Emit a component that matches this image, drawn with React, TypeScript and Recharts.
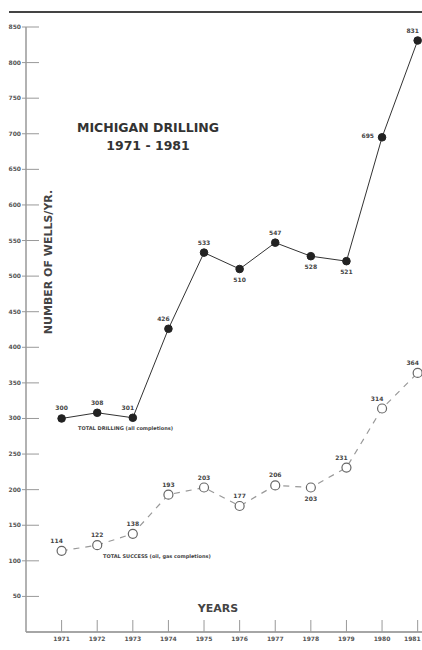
import React from 'react';
import { LineChart, Line, XAxis, YAxis, LabelList } from 'recharts';

const years = [1971, 1972, 1973, 1974, 1975, 1976, 1977, 1978, 1979, 1980, 1981];
const totalDrilling = [300, 308, 301, 426, 533, 510, 547, 528, 521, 695, 831];
const totalSuccess = [114, 122, 138, 193, 203, 177, 206, 203, 231, 314, 364];
const yTicks = [50, 100, 150, 200, 250, 300, 350, 400, 450, 500, 550, 600, 650, 700, 750, 800, 850];

// where each value label sits relative to its point
const drillingLabelSide = ['up', 'up', 'upLeft', 'upLeft', 'up', 'down', 'up', 'down', 'down', 'left', 'upLeft'];
const successLabelSide = ['upLeft', 'up', 'up', 'up', 'up', 'up', 'up', 'down', 'upLeft', 'upLeft', 'upLeft'];

const data = years.map((year, i) => ({
  year,
  drilling: totalDrilling[i],
  success: totalSuccess[i],
}));

const FONT = '"DejaVu Sans", "Open Sans", sans-serif';
const INK = '#333';

const YTick = (props: any) => {
  const { x, y, payload } = props;
  return (
    <g>
      <line x1={x - 4} x2={x + 13} y1={y} y2={y} stroke="#999" strokeWidth={1} />
      <text x={x - 5} y={y} dy={2} textAnchor="end" fontSize={6} fontWeight="bold" fill="#555" fontFamily={FONT}>
        {payload.value}
      </text>
    </g>
  );
};

const XTick = (props: any) => {
  const { x, y, payload, index } = props;
  // last year sits on the page edge, keep its label inside
  const last = index === years.length - 1;
  return (
    <g>
      <line x1={x} x2={x} y1={y - 12} y2={y} stroke="#999" strokeWidth={1} />
      <text
        x={last ? x + 3 : x}
        y={y + 9}
        textAnchor={last ? 'end' : 'middle'}
        fontSize={6}
        fontWeight="bold"
        fill="#555"
        fontFamily={FONT}
      >
        {payload.value}
      </text>
    </g>
  );
};

const makeLabel = (sides: string[]) => (props: any) => {
  const { x, y, value, index } = props;
  const side = sides[index];
  let lx = x;
  let ly = y - 8;
  let anchor: 'middle' | 'end' = 'middle';
  if (side === 'down') ly = y + 13;
  if (side === 'upLeft') {
    lx = x - 5;
    ly = y - 8;
  }
  if (side === 'left') {
    lx = x - 8;
    ly = y + 1;
    anchor = 'end';
  }
  return (
    <text x={lx} y={ly} textAnchor={anchor} fontSize={6} fontWeight="bold" fill="#444" fontFamily={FONT}>
      {value}
    </text>
  );
};

const App: React.FC = () => {
  return (
    <div style={{ position: 'absolute', left: 0, top: 0, width: 422, height: 650, overflow: 'hidden', background: '#fff' }}>
      <div style={{ position: 'absolute', left: 9, top: 11, width: 413, height: 2, background: '#444' }} />
      <LineChart width={430} height={650} data={data} margin={{ top: 27, right: 7, bottom: 0, left: 0 }}>
        <XAxis
          dataKey="year"
          type="number"
          domain={[1970, 1981.15]}
          ticks={years}
          interval={0}
          height={18}
          tickSize={0}
          tickMargin={0}
          tick={<XTick />}
          axisLine={{ stroke: '#888', strokeWidth: 1.5 }}
          tickLine={false}
        />
        <YAxis
          type="number"
          domain={[0, 850]}
          ticks={yTicks}
          interval={0}
          width={26}
          tickSize={0}
          tickMargin={0}
          tick={<YTick />}
          axisLine={{ stroke: '#999', strokeWidth: 1.5 }}
          tickLine={false}
        />
        <Line
          dataKey="drilling"
          stroke={INK}
          strokeWidth={1}
          dot={{ r: 3.8, fill: '#222', stroke: '#222', strokeWidth: 1 }}
          isAnimationActive={false}
        >
          <LabelList dataKey="drilling" content={makeLabel(drillingLabelSide)} />
        </Line>
        <Line
          dataKey="success"
          stroke="#999"
          strokeWidth={1.2}
          strokeDasharray="6 6"
          dot={{ r: 4.5, fill: '#fff', stroke: '#666', strokeWidth: 1.2, strokeDasharray: 'none' }}
          isAnimationActive={false}
        >
          <LabelList dataKey="success" content={makeLabel(successLabelSide)} />
        </Line>
      </LineChart>
      <svg width={422} height={650} style={{ position: 'absolute', left: 0, top: 0, pointerEvents: 'none' }}>
        <text x={148} y={132} textAnchor="middle" fontSize={12.5} fontWeight="bold" fill={INK} fontFamily={FONT}>
          MICHIGAN DRILLING
        </text>
        <text x={148} y={150} textAnchor="middle" fontSize={12.5} fontWeight="bold" fill={INK} fontFamily={FONT}>
          1971 - 1981
        </text>
        <text
          x={52}
          y={262}
          transform="rotate(-90 52 262)"
          textAnchor="middle"
          fontSize={11}
          fontWeight="bold"
          fill="#444"
          fontFamily={FONT}
        >
          NUMBER OF WELLS/YR.
        </text>
        <text x={218} y={612} textAnchor="middle" fontSize={11} fontWeight="bold" fill="#444" fontFamily={FONT}>
          YEARS
        </text>
        <text x={78} y={430} fontSize={5} fontWeight="bold" fill="#444" fontFamily={FONT}>
          TOTAL DRILLING (all completions)
        </text>
        <text x={103} y={558} fontSize={5} fontWeight="bold" fill="#444" fontFamily={FONT}>
          TOTAL SUCCESS (oil, gas completions)
        </text>
      </svg>
    </div>
  );
};

export default App;
